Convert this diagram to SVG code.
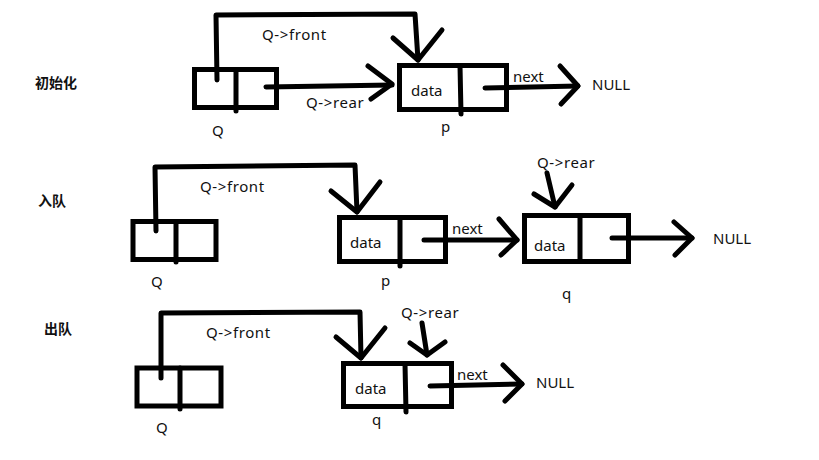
<svg xmlns="http://www.w3.org/2000/svg" width="819" height="460" viewBox="0 0 819 460">
<style>
.box{fill:none;stroke:#000;stroke-width:5}
.ln{fill:none;stroke:#000;stroke-width:5;stroke-linecap:round;stroke-linejoin:round}
.t{font-family:"Noto Sans","Liberation Sans",sans-serif;font-size:15px;fill:#111}
.w{letter-spacing:0.6px}
.h{font-family:"Noto Sans CJK SC",sans-serif;font-size:14px;font-weight:bold;fill:#111}
</style>
<rect width="819" height="460" fill="#fff"/>
<text class="h" x="35" y="88">初始化</text>
<text class="h" x="38" y="206">入队</text>
<text class="h" x="44" y="334">出队</text>

<g id="Q1">
<rect class="box" x="194.5" y="69.5" width="82" height="38"/>
<line class="ln" x1="236" y1="69.5" x2="236" y2="111"/>
<text class="t" x="212" y="136">Q</text>
</g>
<g id="p1">
<rect class="box" x="399.5" y="65.5" width="107" height="44"/>
<line class="ln" x1="460" y1="65.5" x2="461" y2="114"/>
<text class="t" x="411" y="96">data</text>
<text class="t" x="441" y="132">p</text>
</g>
<g id="Q2">
<rect class="box" x="133" y="221.5" width="83" height="38"/>
<line class="ln" x1="176" y1="221.5" x2="176" y2="262"/>
<text class="t" x="151" y="287">Q</text>
</g>
<g id="p2">
<rect class="box" x="339.5" y="217.5" width="106" height="44"/>
<line class="ln" x1="400" y1="217.5" x2="400" y2="266"/>
<text class="t" x="350" y="248">data</text>
<text class="t" x="381" y="286">p</text>
</g>
<g id="q2">
<rect class="box" x="524.5" y="215.5" width="104" height="46"/>
<line class="ln" x1="580" y1="215.5" x2="580" y2="261"/>
<text class="t" x="534" y="251">data</text>
<text class="t" x="562" y="299">q</text>
</g>
<g id="Q3">
<rect class="box" x="137" y="368" width="84" height="38"/>
<line class="ln" x1="180" y1="368" x2="180" y2="409"/>
<text class="t" x="156" y="433">Q</text>
</g>
<g id="q3">
<rect class="box" x="343.5" y="363.5" width="108" height="43"/>
<line class="ln" x1="405" y1="363.5" x2="406" y2="412"/>
<text class="t" x="355" y="394">data</text>
<text class="t" x="372" y="425">q</text>
</g>

<g id="connectors">
<polyline class="ln" points="217,80 216,15 415,14 418,60"/>
<polyline class="ln" points="393,38 418,60 442,30"/>
<line class="ln" x1="266" y1="87" x2="392" y2="85"/>
<polyline class="ln" points="368,66 392,84 371,99"/>
<line class="ln" x1="485" y1="88" x2="578" y2="86"/>
<polyline class="ln" points="560,66 578,86 561,104"/>

<polyline class="ln" points="156,231 155,167 355,165 357,212"/>
<polyline class="ln" points="331,191 357,212 380,182"/>
<line class="ln" x1="424" y1="240" x2="517" y2="240"/>
<polyline class="ln" points="499,219 517,240 501,255"/>
<line class="ln" x1="547" y1="173" x2="555" y2="207"/>
<polyline class="ln" points="534,194 555,207 572,185"/>
<line class="ln" x1="612" y1="238" x2="692" y2="238"/>
<polyline class="ln" points="674,222 692,238 675,255"/>

<polyline class="ln" points="161,378 161,313 360,312 361,358"/>
<polyline class="ln" points="336,337 361,358 385,328"/>
<line class="ln" x1="422" y1="323" x2="427" y2="355"/>
<polyline class="ln" points="410,343 427,355 445,342"/>
<line class="ln" x1="430" y1="386" x2="522" y2="384"/>
<polyline class="ln" points="503,365 522,384 505,401"/>
</g>

<text class="t w" x="262" y="40">Q-&gt;front</text>
<text class="t w" x="306" y="108">Q-&gt;rear</text>
<text class="t" x="513" y="82">next</text>
<text class="t" x="592" y="90">NULL</text>
<text class="t w" x="200" y="192">Q-&gt;front</text>
<text class="t" x="452" y="234">next</text>
<text class="t w" x="537" y="168">Q-&gt;rear</text>
<text class="t" x="713" y="244">NULL</text>
<text class="t w" x="206" y="338">Q-&gt;front</text>
<text class="t w" x="401" y="318">Q-&gt;rear</text>
<text class="t" x="457" y="380">next</text>
<text class="t" x="536" y="388">NULL</text>
</svg>
